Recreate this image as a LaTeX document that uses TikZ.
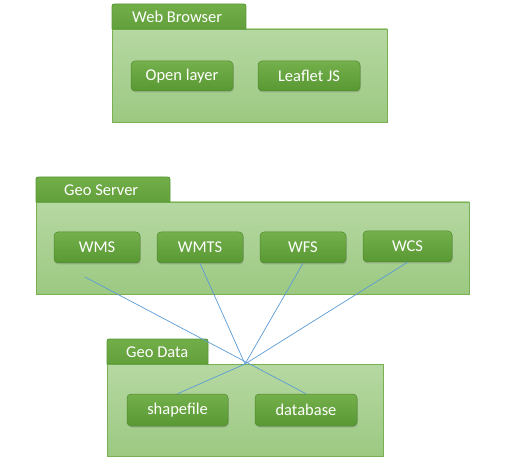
\documentclass[tikz,border=0pt]{standalone}
\usepackage{fontspec}
\setmainfont{Carlito}
\usetikzlibrary{shadows}
\definecolor{bodytop}{HTML}{B6D8A2}
\definecolor{bodybot}{HTML}{9CC982}
\definecolor{bodyline}{HTML}{78B053}
\definecolor{btntop}{HTML}{74B04B}
\definecolor{btnbot}{HTML}{589833}
\definecolor{tabtop}{HTML}{72AE48}
\definecolor{tabbot}{HTML}{62A03C}
\definecolor{link}{HTML}{5B9BD5}
\tikzset{
  groupbody/.style={draw=bodyline, line width=0.8pt, top color=bodytop, bottom color=bodybot, inner sep=0pt},
  tabshape/.style={draw=btnbot, line width=0.8pt, top color=tabtop, bottom color=tabbot},
  tablabel/.style={text=white, font=\fontsize{16.5}{18}\selectfont, inner sep=0pt},
  btn/.style={rounded corners=4pt, draw=btnbot!90!black, line width=0.5pt, top color=btntop, bottom color=btnbot,
    text=white, font=\fontsize{16.5}{18}\selectfont, inner sep=0pt,
    drop shadow={shadow xshift=0.8pt, shadow yshift=-1.5pt, opacity=0.35}},
  conn/.style={draw=link, line width=0.7pt}
}
\begin{document}
\begin{tikzpicture}[x=1pt,y=-1pt]
\useasboundingbox (0,0) rectangle (506,462);
% Web Browser
\node[groupbody, minimum width=275pt, minimum height=93pt] (webbody) at (249.5,75.5) {};
\path[tabshape] (112,29) -- (112,9) .. controls (112,4) .. (117,4) -- (241,4) .. controls (246,4) .. (246,9) -- (246,29) -- cycle;
\node[tablabel, anchor=west] (webtab) at (132,17) {Web Browser};
\node[btn, minimum width=102pt, minimum height=30pt] (openlayer) at (182,76) {Open layer};
\node[btn, minimum width=102pt, minimum height=30pt] (leaflet) at (309,76) {Leaflet JS};
% Geo Server
\node[groupbody, minimum width=433pt, minimum height=92pt] (serverbody) at (252.5,248) {};
\path[tabshape] (36,202) -- (36,182) .. controls (36,177) .. (41,177) -- (165,177) .. controls (170,177) .. (170,182) -- (170,202) -- cycle;
\node[tablabel, anchor=west] (servertab) at (64,190) {Geo Server};
\node[btn, minimum width=86pt, minimum height=31pt] (wms) at (97,247.5) {WMS};
\node[btn, minimum width=86pt, minimum height=31pt] (wmts) at (200,247.5) {WMTS};
\node[btn, minimum width=86pt, minimum height=31pt] (wfs) at (303,247.5) {WFS};
\node[btn, minimum width=89pt, minimum height=31pt] (wcs) at (407.5,246.5) {WCS};
% Geo Data
\node[groupbody, minimum width=276pt, minimum height=92pt] (databody) at (245,410) {};
\path[tabshape] (107,364) -- (107,344) .. controls (107,339) .. (112,339) -- (203,339) .. controls (208,339) .. (208,344) -- (208,364) -- cycle;
\node[tablabel, anchor=west] (datatab) at (126,352) {Geo Data};
\node[btn, minimum width=101pt, minimum height=32pt] (shapefile) at (177.5,410) {shapefile};
\node[btn, minimum width=102pt, minimum height=32pt] (database) at (306,410) {database};
% connectors
\coordinate (wmsend) at (85,277);
\coordinate (hub) at (245,364);
\draw[conn] (wmsend) -- (database.north);
\draw[conn] (wmts.south) -- (hub);
\draw[conn] (wfs.south) -- (hub);
\draw[conn] (wcs.south) -- (hub);
\draw[conn] (hub) -- (shapefile.north);
\end{tikzpicture}
\end{document}
